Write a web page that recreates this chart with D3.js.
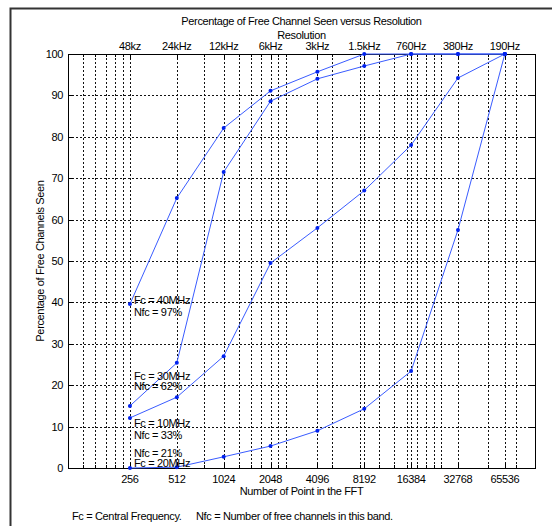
<!DOCTYPE html>
<html>
<head>
<meta charset="utf-8">
<script src="https://cdn.jsdelivr.net/npm/d3@7"></script>
<style>
  html, body { margin: 0; padding: 0; background: #fff; }
  svg text { font-family: "Liberation Sans", Arial, sans-serif; fill: #000; letter-spacing: -0.35px; }
</style>
</head>
<body>
<svg id="chart" width="552" height="526"></svg>
<script>
// FFT sizes on the bottom axis and the matching frequency resolution on the top axis
const fftPoints = [256, 512, 1024, 2048, 4096, 8192, 16384, 32768, 65536];
const resolutionLabels = ["48kz", "24kHz", "12kHz", "6kHz", "3kHz", "1.5kHz", "760Hz", "380Hz", "190Hz"];
const yTicks = [0, 10, 20, 30, 40, 50, 60, 70, 80, 90, 100];

// Percentage of free channels seen, one series per band
const band40MHz = [39.6, 65.2, 82.1, 91.1, 95.7, 100, 100, 100, 100];
const band30MHz = [15.0, 25.4, 71.5, 88.6, 94.0, 97.1, 100, 100, 100];
const band10MHz = [12.1, 17.1, 27.0, 49.5, 58.0, 67.0, 78.0, 94.2, 100];
const band20MHz = [0.0, 0.2, 2.7, 5.3, 9.0, 14.3, 23.4, 57.5, 100];

// Band annotations, placed beside the 256-point column
const annotations = [
  { text: "Fc = 40MHz", y: 40.6 },
  { text: "Nfc = 97%", y: 37.7 },
  { text: "Fc = 30MHz", y: 22.2 },
  { text: "Nfc = 62%", y: 19.8 },
  { text: "Fc = 10MHz", y: 10.9 },
  { text: "Nfc = 33%", y: 8.0 },
  { text: "Nfc = 21%", y: 3.6 },
  { text: "Fc = 20MHz", y: 1.2 }
];

const svg = d3.select("#chart");
const plotLeft = 68, plotRight = 535, plotTop = 54, plotBottom = 468;

// log axis running from 0.4x to 400x the smallest FFT size
const x = d3.scaleLog().domain([256 * 0.4, 256 * 400]).range([plotLeft, plotRight]);
const y = d3.scaleLinear().domain([0, 100]).range([plotBottom, plotTop]);

// outer figure frame
svg.append("path")
  .attr("d", "M10.5,526 L10.5,8.5 L552,8.5")
  .attr("fill", "none").attr("stroke", "#333").attr("stroke-width", 2);

// minor/major log grid positions (multiples of 256 x 1..9 x 10^k)
const gridX = [];
for (let k = -1; k <= 2; k++) {
  for (let m = 1; m <= 9; m++) {
    const v = 256 * m * Math.pow(10, k);
    if (v >= x.domain()[0] - 1e-6 && v <= x.domain()[1] + 1e-6) gridX.push(v);
  }
}
fftPoints.forEach(v => { if (!gridX.includes(v)) gridX.push(v); });

const grid = svg.append("g").attr("stroke", "#111").attr("stroke-width", 1)
  .attr("stroke-dasharray", "2,2").attr("fill", "none");
gridX.forEach(v => {
  const px = Math.round(x(v)) + 0.5;
  grid.append("line").attr("x1", px).attr("x2", px).attr("y1", plotTop).attr("y2", plotBottom);
});
yTicks.slice(1, -1).forEach(v => {
  const py = Math.round(y(v)) + 0.5;
  grid.append("line").attr("x1", plotLeft).attr("x2", plotRight).attr("y1", py).attr("y2", py);
});

// axis box
svg.append("rect")
  .attr("x", plotLeft + 0.5).attr("y", plotTop + 0.5)
  .attr("width", plotRight - plotLeft).attr("height", plotBottom - plotTop)
  .attr("fill", "none").attr("stroke", "#000").attr("stroke-width", 1);

// inward tick marks on all four sides
const ticks = svg.append("g").attr("stroke", "#000").attr("stroke-width", 1);
gridX.forEach(v => {
  const px = Math.round(x(v)) + 0.5;
  const major = fftPoints.includes(v);
  const len = major ? 5 : 3;
  ticks.append("line").attr("x1", px).attr("x2", px).attr("y1", plotBottom).attr("y2", plotBottom - len);
  ticks.append("line").attr("x1", px).attr("x2", px).attr("y1", plotTop).attr("y2", plotTop + len);
});
yTicks.forEach(v => {
  const py = Math.round(y(v)) + 0.5;
  ticks.append("line").attr("x1", plotLeft).attr("x2", plotLeft + 5).attr("y1", py).attr("y2", py);
  ticks.append("line").attr("x1", plotRight - 5).attr("x2", plotRight).attr("y1", py).attr("y2", py);
});

// tick labels
const fs = 11;
svg.append("g").selectAll("text").data(fftPoints).join("text")
  .attr("x", d => x(d)).attr("y", plotBottom + 15)
  .attr("text-anchor", "middle").attr("font-size", fs).text(d => d);
svg.append("g").selectAll("text").data(fftPoints).join("text")
  .attr("x", d => x(d)).attr("y", plotTop - 4)
  .attr("text-anchor", "middle").attr("font-size", fs).text((d, i) => resolutionLabels[i]);
svg.append("g").selectAll("text").data(yTicks).join("text")
  .attr("x", plotLeft - 5).attr("y", d => y(d) + 4)
  .attr("text-anchor", "end").attr("font-size", fs).text(d => d);

// titles and axis labels
svg.append("text").attr("x", (plotLeft + plotRight) / 2).attr("y", 25)
  .attr("text-anchor", "middle").attr("font-size", fs)
  .text("Percentage of Free Channel Seen versus Resolution");
svg.append("text").attr("x", (plotLeft + plotRight) / 2).attr("y", 39)
  .attr("text-anchor", "middle").attr("font-size", fs).text("Resolution");
svg.append("text").attr("x", (plotLeft + plotRight) / 2).attr("y", 495)
  .attr("text-anchor", "middle").attr("font-size", fs).text("Number of Point in the FFT");
svg.append("text")
  .attr("transform", `translate(44, ${(plotTop + plotBottom) / 2}) rotate(-90)`)
  .attr("text-anchor", "middle").attr("font-size", fs).text("Percentage of Free Channels Seen");

// series lines with dot markers
const line = d3.line().x((d, i) => x(fftPoints[i])).y(d => y(d));
[band40MHz, band30MHz, band10MHz, band20MHz].forEach(series => {
  svg.append("path").datum(series).attr("d", line)
    .attr("fill", "none").attr("stroke", "#3a5cff").attr("stroke-width", 1);
  svg.append("g").selectAll("circle").data(series).join("circle")
    .attr("cx", (d, i) => x(fftPoints[i])).attr("cy", d => y(d)).attr("r", 2)
    .attr("fill", "#0022ee");
});

// band annotations
svg.append("g").selectAll("text").data(annotations).join("text")
  .attr("x", x(256) + 4).attr("y", d => y(d.y) + 4)
  .attr("font-size", fs).text(d => d.text);

// footnote
svg.append("text").attr("x", 72).attr("y", 520).attr("font-size", fs)
  .text("Fc = Central Frequency.");
svg.append("text").attr("x", 196).attr("y", 520).attr("font-size", fs)
  .text("Nfc = Number of free channels in this band.");
</script>
</body>
</html>
